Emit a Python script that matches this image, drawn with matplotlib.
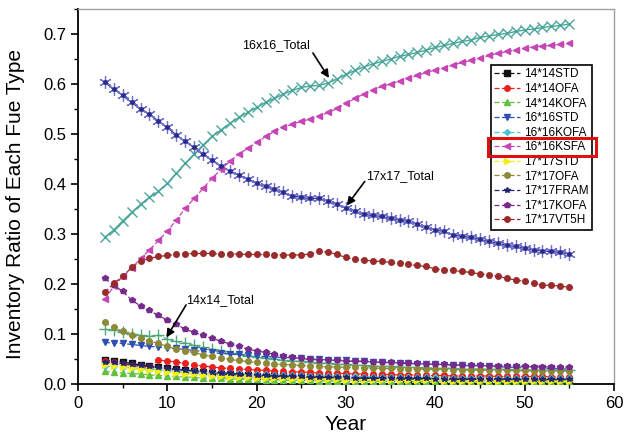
import numpy as np
import matplotlib
matplotlib.use("Agg")
import matplotlib.pyplot as plt
from matplotlib.patches import Rectangle

plt.rcParams['font.family'] = ['Liberation Sans', 'DejaVu Sans']

years = np.arange(3, 56)

# fuel type series (ratio), years 3..55
std_14 = [.048, .046, .044, .041, .038, .035, .033, .031, .029, .027,
          .025, .023, .021, .020, .019, .018, .017, .016, .016, .015,
          .015, .014, .014, .013, .013, .013, .012, .012, .012, .011,
          .011, .011, .011, .010, .010, .010, .010, .010, .009, .009,
          .009, .009, .009, .009, .008, .008, .008, .008, .008, .008,
          .008, .008, .008]
ofa_14 = [.045, .043, .040, .037, .035, .033, .048, .046, .044, .041,
          .038, .036, .034, .032, .031, .030, .029, .028, .027, .026,
          .025, .024, .024, .023, .022, .022, .021, .021, .020, .020,
          .019, .019, .019, .018, .018, .018, .017, .017, .017, .016,
          .016, .016, .016, .016, .015, .015, .015, .015, .015, .015,
          .014, .014, .014]
kofa_14 = [.025, .024, .022, .021, .020, .018, .017, .016, .015, .014,
           .013, .012, .011, .011, .010, .010, .009, .009, .008, .008,
           .008, .007, .007, .007, .006, .006, .006, .006, .005, .005,
           .005, .005, .005, .005, .004, .004, .004, .004, .004, .004,
           .004, .004, .004, .003, .003, .003, .003, .003, .003, .003,
           .003, .003, .003]
std_16 = [.083, .082, .081, .079, .077, .075, .074, .072, .071, .069,
          .067, .065, .063, .061, .060, .059, .057, .056, .055, .054,
          .053, .052, .051, .050, .049, .048, .047, .047, .046, .045,
          .044, .043, .042, .042, .041, .040, .040, .039, .038, .038,
          .037, .036, .036, .035, .034, .034, .033, .032, .032, .031,
          .031, .030, .030]
kofa_16 = [.036, .035, .034, .032, .031, .030, .029, .028, .027, .026,
           .025, .024, .023, .022, .021, .021, .020, .019, .019, .018,
           .018, .017, .017, .016, .016, .016, .015, .015, .015, .014,
           .014, .014, .014, .013, .013, .013, .013, .013, .012, .012,
           .012, .012, .012, .012, .012, .011, .011, .011, .011, .011,
           .011, .011, .011]
ksfa_16 = [.170, .195, .215, .231, .251, .268, .287, .305, .328, .351,
           .371, .391, .411, .429, .445, .460, .471, .483, .495, .505,
           .513, .520, .525, .530, .535, .543, .551, .561, .571, .580,
           .588, .595, .600, .606, .611, .617, .623, .628, .632, .638,
           .643, .647, .651, .657, .661, .665, .668, .671, .674, .676,
           .677, .679, .681]
std_17 = [.038, .036, .033, .031, .029, .027, .025, .023, .021, .020,
          .019, .017, .016, .015, .014, .014, .013, .012, .012, .011,
          .011, .010, .010, .010, .009, .009, .009, .008, .008, .008,
          .008, .008, .007, .007, .007, .007, .007, .007, .006, .006,
          .006, .006, .006, .006, .006, .006, .006, .006, .006, .006,
          .006, .006, .006]
ofa_17 = [.123, .113, .105, .097, .091, .086, .081, .075, .070, .066,
          .063, .058, .055, .052, .049, .047, .045, .043, .041, .040,
          .039, .038, .037, .036, .035, .034, .034, .033, .033, .032,
          .032, .031, .031, .030, .030, .030, .029, .029, .029, .028,
          .028, .028, .028, .027, .027, .027, .027, .027, .026, .026,
          .026, .026, .026]
fram_17 = [.044, .043, .041, .039, .037, .035, .033, .031, .029, .028,
           .026, .025, .023, .022, .021, .020, .019, .018, .017, .016,
           .016, .015, .015, .014, .014, .013, .013, .013, .012, .012,
           .012, .012, .011, .011, .011, .011, .011, .010, .010, .010,
           .010, .010, .010, .010, .010, .010, .009, .009, .009, .009,
           .009, .009, .009]
kofa_17 = [.211, .198, .185, .168, .156, .147, .137, .128, .119, .110,
           .103, .097, .091, .086, .080, .075, .070, .066, .063, .059,
           .056, .053, .051, .049, .048, .047, .047, .046, .045, .045,
           .044, .043, .043, .042, .041, .041, .040, .039, .039, .038,
           .038, .037, .037, .036, .036, .035, .035, .035, .034, .034,
           .034, .033, .033]
vt5h_17 = [.183, .201, .215, .233, .246, .251, .255, .257, .259, .260,
           .261, .261, .261, .260, .260, .260, .259, .259, .259, .258,
           .258, .258, .258, .260, .265, .264, .259, .253, .249, .248,
           .246, .245, .243, .241, .239, .237, .235, .230, .228, .227,
           .225, .223, .220, .218, .216, .211, .208, .205, .201, .198,
           .197, .196, .193]

# totals per assembly size
total_16 = [.293, .308, .326, .343, .359, .373, .385, .401, .421, .441,
            .460, .478, .495, .508, .521, .533, .543, .553, .563, .571,
            .580, .587, .593, .596, .597, .602, .610, .619, .627, .634,
            .640, .645, .650, .655, .659, .663, .668, .673, .677, .681,
            .685, .688, .693, .696, .699, .701, .705, .708, .710, .713,
            .715, .717, .720]
total_17 = [.603, .590, .577, .563, .550, .539, .526, .513, .498, .485,
            .473, .460, .447, .436, .426, .418, .409, .401, .395, .389,
            .383, .376, .373, .371, .371, .366, .359, .352, .345, .339,
            .337, .335, .331, .328, .325, .319, .313, .308, .305, .298,
            .295, .293, .289, .285, .281, .277, .275, .271, .268, .266,
            .265, .263, .260]
total_14 = [.109, .107, .104, .100, .097, .095, .098, .090, .085, .082,
            .077, .073, .069, .065, .062, .059, .056, .054, .052, .050,
            .048, .046, .045, .043, .042, .041, .040, .039, .038, .037,
            .036, .035, .035, .034, .033, .033, .032, .032, .031, .031,
            .030, .030, .030, .029, .029, .029, .028, .028, .028, .028,
            .028, .027, .027]

labels = ['14*14STD', '14*14OFA', '14*14KOFA', '16*16STD', '16*16KOFA',
          '16*16KSFA', '17*17STD', '17*17OFA', '17*17FRAM', '17*17KOFA',
          '17*17VT5H']
series = [std_14, ofa_14, kofa_14, std_16, kofa_16, ksfa_16, std_17,
          ofa_17, fram_17, kofa_17, vt5h_17]
colors = ['#111111', '#e8211f', '#62c13f', '#2f4fb4', '#47c3d6', '#c546b4',
          '#f2ee19', '#8c8a36', '#24246e', '#762a8c', '#9a2b2b']
markers = ['s', 'o', '^', 'v', 'D', '<', '>', 'o', '*', 'p', 'o']

fig = plt.figure(figsize=(6.32, 4.41), dpi=100)
ax = fig.add_axes([0.1234, 0.1293, 0.848, 0.8503])

# totals (not in legend)
ax.plot(years, total_16, color='#4aa59a', lw=1.0, marker='x', ms=7,
        mew=1.0, zorder=3)
ax.plot(years, total_17, color='#3a3a9a', lw=1.0, marker=(6, 2, 0), ms=9,
        mew=0.9, mec='#7070cc', zorder=3)
ax.plot(years, total_17, ls='none', marker='o', ms=2.5, color='#2a2a8a',
        zorder=4)
ax.plot(years, total_14, color='#4fa878', lw=0.8, ls=(0, (4, 2)),
        marker='+', ms=8, mew=1.0, zorder=2)

handles = []
for lab, vals, c, m in zip(labels, series, colors, markers):
    ms = 3 if m == 'D' else 4
    h, = ax.plot(years, vals, color=c, lw=0.9, ls=(0, (4, 2)), marker=m,
                 ms=ms, mec=c, label=lab, zorder=3)
    handles.append(h)

ax.set_xlim(0, 60)
ax.set_ylim(0, 0.75)
ax.set_xticks(np.arange(0, 61, 10))
ax.set_xticks(np.arange(0, 61, 5), minor=True)
ax.set_yticks(np.arange(0, 0.71, 0.1))
ax.set_yticks(np.arange(0, 0.751, 0.05), minor=True)
ax.set_yticklabels(['%.1f' % v for v in np.arange(0, 0.71, 0.1)])
ax.tick_params(which='major', direction='out', length=5, width=1.2,
               labelsize=12, top=False, right=False)
ax.tick_params(which='minor', direction='out', length=3, width=1.0,
               top=False, right=False)
ax.spines['left'].set_linewidth(1.3)
ax.spines['bottom'].set_linewidth(1.3)
for s in ['top', 'right']:
    ax.spines[s].set_color('#a0a0a0')
    ax.spines[s].set_linewidth(1.0)

ax.set_xlabel('Year', fontsize=15, labelpad=3)
ax.set_ylabel('Inventory Ratio of Each Fue Type', fontsize=15, labelpad=6)
ax.yaxis.set_label_coords(-0.098, 0.48)

# annotations
arrow = dict(arrowstyle='-|>', color='black', lw=1.2, mutation_scale=12,
             shrinkA=0, shrinkB=0)
ax.text(22.2, 0.678, '16x16_Total', fontsize=9, ha='center', va='center')
ax.annotate('', xy=(28.1, 0.612), xytext=(26.3, 0.662), arrowprops=arrow)
ax.text(36.1, 0.415, '17x17_Total', fontsize=9, ha='center', va='center')
ax.annotate('', xy=(30.1, 0.357), xytext=(32.1, 0.405), arrowprops=arrow)
ax.text(15.9, 0.168, '14x14_Total', fontsize=9, ha='center', va='center')
ax.annotate('', xy=(9.9, 0.093), xytext=(12.1, 0.158), arrowprops=arrow)

leg = ax.legend(handles=handles, loc='upper right',
                bbox_to_anchor=(0.959, 0.851), fontsize=8.5, numpoints=1,
                handlelength=2.2, handletextpad=0.3, labelspacing=0.22,
                borderpad=0.3, borderaxespad=0, fancybox=False,
                framealpha=1, edgecolor='black')
leg.get_frame().set_linewidth(1.2)

# red box around the 16*16KSFA entry
fig.canvas.draw()
inv = fig.transFigure.inverted()
lb = leg.get_window_extent()
tb = leg.get_texts()[5].get_window_extent()
x0, y0 = inv.transform((lb.x0 - 3, tb.y0 - 3))
x1, y1 = inv.transform((lb.x1 + 4, tb.y1 + 3))
fig.patches.append(Rectangle((x0, y0), x1 - x0, y1 - y0, fill=False,
                             edgecolor='#e01010', lw=2.2,
                             transform=fig.transFigure, figure=fig,
                             zorder=10))

fig.savefig('out.png', dpi=100)
